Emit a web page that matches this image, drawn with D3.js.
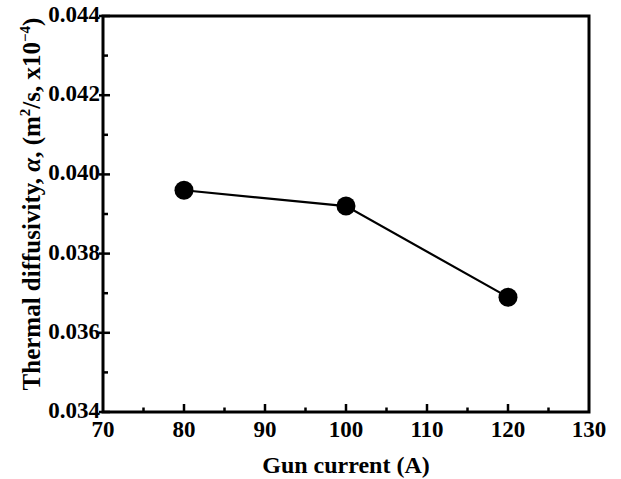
<!DOCTYPE html>
<html>
<head>
<meta charset="utf-8">
<script src="https://cdn.jsdelivr.net/npm/d3@7"></script>
<style>
  body { margin: 0; background: #fff; }
  text { font-family: "Liberation Serif", "Times New Roman", serif; font-weight: bold; fill: #000; }
</style>
</head>
<body>
<script>
// data
var gunCurrent = [80, 100, 120];
var diffusivity = [0.0396, 0.0392, 0.0369];

var xTicks = [70, 80, 90, 100, 110, 120, 130];
var yTicks = [0.034, 0.036, 0.038, 0.040, 0.042, 0.044];

var width = 621, height = 479;
var margin = {left: 103, right: 32, top: 16, bottom: 67};

var svg = d3.select("body").append("svg")
    .attr("width", width)
    .attr("height", height);

var x = d3.scaleLinear().domain([70, 130]).range([margin.left, width - margin.right]);
var y = d3.scaleLinear().domain([0.034, 0.044]).range([height - margin.bottom, margin.top]);

// minor ticks halfway between the majors
var xMinor = d3.range(75, 130, 10);
var yMinor = d3.range(0.035, 0.0441, 0.002);

var bottomY = y(0.034), leftX = x(70);

// x ticks (inside)
svg.selectAll("line.xmaj").data(xTicks.slice(1, -1)).enter().append("line")
    .attr("x1", d => x(d)).attr("x2", d => x(d))
    .attr("y1", bottomY).attr("y2", bottomY - 8)
    .attr("stroke", "#000").attr("stroke-width", 2.5);
svg.selectAll("line.xmin").data(xMinor).enter().append("line")
    .attr("x1", d => x(d)).attr("x2", d => x(d))
    .attr("y1", bottomY).attr("y2", bottomY - 4.5)
    .attr("stroke", "#000").attr("stroke-width", 2.5);

// y ticks
svg.selectAll("line.ymaj").data(yTicks).enter().append("line")
    .attr("x1", leftX - 4).attr("x2", leftX + 7)
    .attr("y1", d => y(d)).attr("y2", d => y(d))
    .attr("stroke", "#000").attr("stroke-width", 2.5);
svg.selectAll("line.ymin").data(yMinor).enter().append("line")
    .attr("x1", leftX).attr("x2", leftX + 5)
    .attr("y1", d => y(d)).attr("y2", d => y(d))
    .attr("stroke", "#000").attr("stroke-width", 2.5);

// frame
svg.append("rect")
    .attr("x", leftX).attr("y", y(0.044))
    .attr("width", x(130) - leftX).attr("height", bottomY - y(0.044))
    .attr("fill", "none").attr("stroke", "#000").attr("stroke-width", 3);

// tick labels
svg.selectAll("text.xl").data(xTicks).enter().append("text")
    .attr("x", d => x(d)).attr("y", bottomY + 25)
    .attr("text-anchor", "middle").attr("font-size", 23)
    .text(d => d);
svg.selectAll("text.yl").data(yTicks).enter().append("text")
    .attr("x", leftX - 3).attr("y", d => y(d) + 6)
    .attr("text-anchor", "end").attr("font-size", 23)
    .text(d => d3.format(".3f")(d));

// axis titles
svg.append("text")
    .attr("x", (x(70) + x(130)) / 2).attr("y", 473)
    .attr("text-anchor", "middle").attr("font-size", 24)
    .text("Gun current (A)");

var yt = svg.append("text")
    .attr("transform", "translate(40,204) rotate(-90)")
    .attr("text-anchor", "middle").attr("font-size", 25);
yt.append("tspan").text("Thermal diffusivity, ");
yt.append("tspan").attr("font-style", "italic").text("α");
yt.append("tspan").text(", (m");
yt.append("tspan").attr("font-size", 15).attr("dy", -10).text("2");
yt.append("tspan").attr("dy", 10).text("/s, x10");
yt.append("tspan").attr("font-size", 15).attr("dy", -10).text("−4");
yt.append("tspan").attr("dy", 10).text(")");

// line + markers
var pts = gunCurrent.map((g, i) => [g, diffusivity[i]]);
svg.append("path")
    .datum(pts)
    .attr("d", d3.line().x(d => x(d[0])).y(d => y(d[1])))
    .attr("fill", "none").attr("stroke", "#000").attr("stroke-width", 2.2);
svg.selectAll("circle").data(pts).enter().append("circle")
    .attr("cx", d => x(d[0])).attr("cy", d => y(d[1]))
    .attr("r", 9.5).attr("fill", "#000");
</script>
</body>
</html>
